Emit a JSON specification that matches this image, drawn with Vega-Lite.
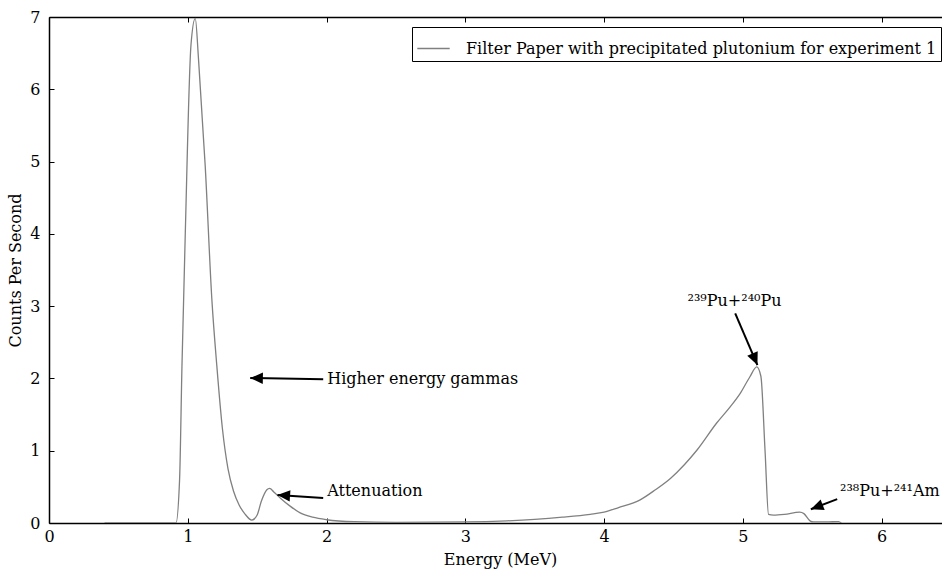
{
  "$schema": "https://vega.github.io/schema/vega-lite/v6.json",
  "width": 902,
  "height": 506,
  "autosize": {"type": "none"},
  "padding": {"left": 49, "top": 17, "right": 0, "bottom": 46},
  "background": "white",
  "config": {
    "font": "DejaVu Serif",
    "view": {"stroke": null},
    "axis": {
      "grid": false,
      "domainColor": "#000000",
      "domainWidth": 1.5,
      "tickColor": "#000000",
      "tickWidth": 1,
      "tickSize": -5,
      "labelPadding": 10,
      "labelFontSize": 16,
      "labelColor": "#000000",
      "titleFontSize": 16,
      "titleFontWeight": "normal",
      "titleColor": "#000000",
      "labelFlush": false
    }
  },
  "datasets": {
    "spectrum": [
      {"energy": 0.40, "cps": 0.0, "series": "Filter Paper with precipitated plutonium for experiment 1"},
      {"energy": 0.915, "cps": 0.0, "series": "Filter Paper with precipitated plutonium for experiment 1"},
      {"energy": 0.941, "cps": 0.6, "series": "Filter Paper with precipitated plutonium for experiment 1"},
      {"energy": 0.958, "cps": 2.16, "series": "Filter Paper with precipitated plutonium for experiment 1"},
      {"energy": 0.982, "cps": 4.0, "series": "Filter Paper with precipitated plutonium for experiment 1"},
      {"energy": 1.023, "cps": 6.61, "series": "Filter Paper with precipitated plutonium for experiment 1"},
      {"energy": 1.054, "cps": 6.98, "series": "Filter Paper with precipitated plutonium for experiment 1"},
      {"energy": 1.078, "cps": 6.4, "series": "Filter Paper with precipitated plutonium for experiment 1"},
      {"energy": 1.126, "cps": 4.93, "series": "Filter Paper with precipitated plutonium for experiment 1"},
      {"energy": 1.174, "cps": 3.08, "series": "Filter Paper with precipitated plutonium for experiment 1"},
      {"energy": 1.21, "cps": 2.16, "series": "Filter Paper with precipitated plutonium for experiment 1"},
      {"energy": 1.25, "cps": 1.3, "series": "Filter Paper with precipitated plutonium for experiment 1"},
      {"energy": 1.29, "cps": 0.75, "series": "Filter Paper with precipitated plutonium for experiment 1"},
      {"energy": 1.33, "cps": 0.44, "series": "Filter Paper with precipitated plutonium for experiment 1"},
      {"energy": 1.37, "cps": 0.25, "series": "Filter Paper with precipitated plutonium for experiment 1"},
      {"energy": 1.41, "cps": 0.13, "series": "Filter Paper with precipitated plutonium for experiment 1"},
      {"energy": 1.462, "cps": 0.04, "series": "Filter Paper with precipitated plutonium for experiment 1"},
      {"energy": 1.50, "cps": 0.11, "series": "Filter Paper with precipitated plutonium for experiment 1"},
      {"energy": 1.53, "cps": 0.3, "series": "Filter Paper with precipitated plutonium for experiment 1"},
      {"energy": 1.57, "cps": 0.46, "series": "Filter Paper with precipitated plutonium for experiment 1"},
      {"energy": 1.59, "cps": 0.48, "series": "Filter Paper with precipitated plutonium for experiment 1"},
      {"energy": 1.62, "cps": 0.43, "series": "Filter Paper with precipitated plutonium for experiment 1"},
      {"energy": 1.67, "cps": 0.34, "series": "Filter Paper with precipitated plutonium for experiment 1"},
      {"energy": 1.74, "cps": 0.23, "series": "Filter Paper with precipitated plutonium for experiment 1"},
      {"energy": 1.81, "cps": 0.14, "series": "Filter Paper with precipitated plutonium for experiment 1"},
      {"energy": 1.90, "cps": 0.08, "series": "Filter Paper with precipitated plutonium for experiment 1"},
      {"energy": 2.0, "cps": 0.045, "series": "Filter Paper with precipitated plutonium for experiment 1"},
      {"energy": 2.2, "cps": 0.018, "series": "Filter Paper with precipitated plutonium for experiment 1"},
      {"energy": 2.5, "cps": 0.01, "series": "Filter Paper with precipitated plutonium for experiment 1"},
      {"energy": 3.0, "cps": 0.015, "series": "Filter Paper with precipitated plutonium for experiment 1"},
      {"energy": 3.3, "cps": 0.03, "series": "Filter Paper with precipitated plutonium for experiment 1"},
      {"energy": 3.5, "cps": 0.05, "series": "Filter Paper with precipitated plutonium for experiment 1"},
      {"energy": 3.7, "cps": 0.08, "series": "Filter Paper with precipitated plutonium for experiment 1"},
      {"energy": 3.9, "cps": 0.12, "series": "Filter Paper with precipitated plutonium for experiment 1"},
      {"energy": 4.0, "cps": 0.15, "series": "Filter Paper with precipitated plutonium for experiment 1"},
      {"energy": 4.1, "cps": 0.21, "series": "Filter Paper with precipitated plutonium for experiment 1"},
      {"energy": 4.26, "cps": 0.32, "series": "Filter Paper with precipitated plutonium for experiment 1"},
      {"energy": 4.37, "cps": 0.46, "series": "Filter Paper with precipitated plutonium for experiment 1"},
      {"energy": 4.48, "cps": 0.62, "series": "Filter Paper with precipitated plutonium for experiment 1"},
      {"energy": 4.58, "cps": 0.81, "series": "Filter Paper with precipitated plutonium for experiment 1"},
      {"energy": 4.67, "cps": 1.01, "series": "Filter Paper with precipitated plutonium for experiment 1"},
      {"energy": 4.81, "cps": 1.38, "series": "Filter Paper with precipitated plutonium for experiment 1"},
      {"energy": 4.91, "cps": 1.61, "series": "Filter Paper with precipitated plutonium for experiment 1"},
      {"energy": 4.98, "cps": 1.79, "series": "Filter Paper with precipitated plutonium for experiment 1"},
      {"energy": 5.05, "cps": 2.02, "series": "Filter Paper with precipitated plutonium for experiment 1"},
      {"energy": 5.10, "cps": 2.16, "series": "Filter Paper with precipitated plutonium for experiment 1"},
      {"energy": 5.13, "cps": 2.03, "series": "Filter Paper with precipitated plutonium for experiment 1"},
      {"energy": 5.16, "cps": 1.0, "series": "Filter Paper with precipitated plutonium for experiment 1"},
      {"energy": 5.185, "cps": 0.12, "series": "Filter Paper with precipitated plutonium for experiment 1"},
      {"energy": 5.22, "cps": 0.11, "series": "Filter Paper with precipitated plutonium for experiment 1"},
      {"energy": 5.30, "cps": 0.12, "series": "Filter Paper with precipitated plutonium for experiment 1"},
      {"energy": 5.41, "cps": 0.15, "series": "Filter Paper with precipitated plutonium for experiment 1"},
      {"energy": 5.44, "cps": 0.13, "series": "Filter Paper with precipitated plutonium for experiment 1"},
      {"energy": 5.484, "cps": 0.03, "series": "Filter Paper with precipitated plutonium for experiment 1"},
      {"energy": 5.51, "cps": 0.015, "series": "Filter Paper with precipitated plutonium for experiment 1"},
      {"energy": 5.60, "cps": 0.015, "series": "Filter Paper with precipitated plutonium for experiment 1"},
      {"energy": 5.69, "cps": 0.02, "series": "Filter Paper with precipitated plutonium for experiment 1"},
      {"energy": 5.71, "cps": 0.0, "series": "Filter Paper with precipitated plutonium for experiment 1"}
    ],
    "arrows": [
      {"id": "gammas", "x": 1.976, "y": 1.99, "x2": 1.45, "y2": 2.005},
      {"id": "atten", "x": 1.976, "y": 0.346, "x2": 1.646, "y2": 0.387},
      {"id": "pu239", "x": 4.945, "y": 2.90, "x2": 5.105, "y2": 2.185},
      {"id": "pu238", "x": 5.68, "y": 0.33, "x2": 5.49, "y2": 0.19}
    ],
    "notes": [
      {"x": 2.005, "y": 1.92, "label": "Higher energy gammas", "align": "left"},
      {"x": 2.005, "y": 0.373, "label": "Attenuation", "align": "left"},
      {"x": 5.70, "y": 0.373, "label": "²³⁸Pu+²⁴¹Am", "align": "left"},
      {"x": 4.94, "y": 3.0, "label": "²³⁹Pu+²⁴⁰Pu", "align": "center"}
    ]
  },
  "layer": [
    {
      "data": {"name": "spectrum"},
      "mark": {"type": "line", "interpolate": "monotone", "strokeWidth": 1.3, "clip": true},
      "encoding": {
        "x": {"field": "energy", "type": "quantitative",
              "scale": {"domain": [0, 6.5], "nice": false, "zero": false},
              "axis": {"orient": "bottom", "values": [0, 1, 2, 3, 4, 5, 6], "format": "d", "title": "Energy (MeV)", "titlePadding": 7}},
        "y": {"field": "cps", "type": "quantitative",
              "scale": {"domain": [0, 7], "nice": false},
              "axis": {"orient": "left", "values": [0, 1, 2, 3, 4, 5, 6, 7], "format": "d", "labelPadding": 14, "title": "Counts Per Second", "titlePadding": 6}},
        "color": {"field": "series", "type": "nominal",
                  "scale": {"range": ["#808080"]},
                  "legend": {"orient": "top-right", "offset": 10, "title": null,
                             "symbolType": "stroke", "symbolSize": 1050, "symbolStrokeWidth": 1.6,
                             "strokeColor": "#000000", "fillColor": "#ffffff", "padding": 4,
                             "labelFontSize": 16, "labelColor": "#000000", "labelLimit": 800,
                             "labelOffset": 15}}
      }
    },
    {
      "data": {"name": "arrows"},
      "mark": {"type": "rule", "color": "#000000", "strokeWidth": 2},
      "encoding": {
        "x": {"field": "x", "type": "quantitative",
              "axis": {"orient": "top", "values": [0, 1, 2, 3, 4, 5, 6], "labels": false, "title": null}},
        "y": {"field": "y", "type": "quantitative"},
        "x2": {"field": "x2"},
        "y2": {"field": "y2"}
      }
    },
    {
      "data": {"name": "arrows"},
      "transform": [{"filter": "datum.id === 'gammas'"}],
      "mark": {"type": "point", "shape": "M0,0L-0.45,1L0.45,1Z", "filled": true, "color": "#000000", "opacity": 1, "size": 640, "angle": 271},
      "encoding": {
        "x": {"field": "x2", "type": "quantitative", "axis": null},
        "y": {"field": "y2", "type": "quantitative"}
      }
    },
    {
      "data": {"name": "arrows"},
      "transform": [{"filter": "datum.id === 'atten'"}],
      "mark": {"type": "point", "shape": "M0,0L-0.45,1L0.45,1Z", "filled": true, "color": "#000000", "opacity": 1, "size": 640, "angle": 274},
      "encoding": {
        "x": {"field": "x2", "type": "quantitative", "axis": null},
        "y": {"field": "y2", "type": "quantitative"}
      }
    },
    {
      "data": {"name": "arrows"},
      "transform": [{"filter": "datum.id === 'pu239'"}],
      "mark": {"type": "point", "shape": "M0,0L-0.45,1L0.45,1Z", "filled": true, "color": "#000000", "opacity": 1, "size": 640, "angle": 157},
      "encoding": {
        "x": {"field": "x2", "type": "quantitative", "axis": null},
        "y": {"field": "y2", "type": "quantitative"}
      }
    },
    {
      "data": {"name": "arrows"},
      "transform": [{"filter": "datum.id === 'pu238'"}],
      "mark": {"type": "point", "shape": "M0,0L-0.45,1L0.45,1Z", "filled": true, "color": "#000000", "opacity": 1, "size": 640, "angle": 249},
      "encoding": {
        "x": {"field": "x2", "type": "quantitative", "axis": null},
        "y": {"field": "y2", "type": "quantitative"}
      }
    },
    {
      "data": {"name": "notes"},
      "transform": [{"filter": "datum.align === 'left'"}],
      "mark": {"type": "text", "align": "left", "baseline": "alphabetic", "fontSize": 16, "color": "#000000"},
      "encoding": {
        "x": {"field": "x", "type": "quantitative", "axis": null},
        "y": {"field": "y", "type": "quantitative"},
        "text": {"field": "label"}
      }
    },
    {
      "data": {"name": "notes"},
      "transform": [{"filter": "datum.align === 'center'"}],
      "mark": {"type": "text", "align": "center", "baseline": "alphabetic", "fontSize": 16, "color": "#000000"},
      "encoding": {
        "x": {"field": "x", "type": "quantitative", "axis": null},
        "y": {"field": "y", "type": "quantitative"},
        "text": {"field": "label"}
      }
    }
  ],
  "resolve": {"axis": {"x": "independent"}}
}
